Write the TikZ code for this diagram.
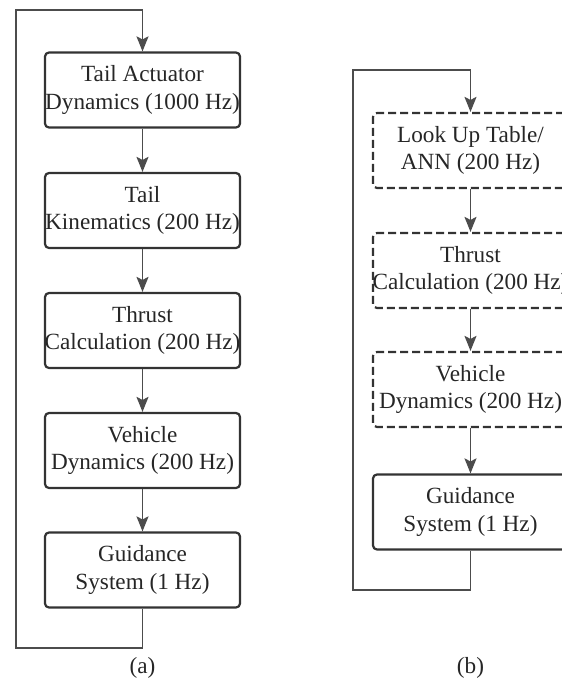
\documentclass[tikz,border=0pt]{standalone}
\usepackage{fontspec}
\setmainfont{Liberation Serif}
\usetikzlibrary{arrows.meta}

\tikzset{
 blk/.style={draw=black!80,line width=1.1pt,rounded corners=2pt,minimum width=97.5pt,minimum height=37.5pt,
   inner xsep=-3pt,align=center,text=black!85,font=\fontsize{11.6}{13.6}\selectfont},
 dblk/.style={blk,dash pattern=on 4pt off 2pt},
 flow/.style={->,>={Stealth[length=7.5pt,width=6pt,inset=1.5pt]},line width=0.75pt,draw=black!70},
 captxt/.style={text=black!85,font=\fontsize{11.6}{13.6}\selectfont},
}

\begin{document}
\begin{tikzpicture}[x=0.5pt,y=-0.5pt]
 \useasboundingbox (0,0) rectangle (562,681);

 % (a)
 \node[blk] (A1) at (142.5,90) {Tail Actuator\\Dynamics (1000 Hz)};
 \node[blk] (A2) at (142.5,210.5) {Tail\\Kinematics (200 Hz)};
 \node[blk] (A3) at (142.5,330.5) {Thrust\\Calculation (200 Hz)};
 \node[blk] (A4) at (142.5,450.5) {Vehicle\\Dynamics (200 Hz)};
 \node[blk] (A5) at (142.5,570) {Guidance\\System (1 Hz)};
 \draw[flow] (A1) -- (A2);
 \draw[flow] (A2) -- (A3);
 \draw[flow] (A3) -- (A4);
 \draw[flow] (A4) -- (A5);
 \coordinate (LaB) at (16,648);
 \coordinate (LaT) at (16,10);
 \draw[flow] (A5.south) |- (LaB) -- (LaT) -| (A1.north);
 \node[captxt] (capa) at (142.5,668) {(a)};

 % (b)
 \node[dblk] (B1) at (470.5,150.5) {Look Up Table/\\ANN (200 Hz)};
 \node[dblk] (B2) at (470.5,270.5) {Thrust\\Calculation (200 Hz)};
 \node[dblk] (B3) at (470.5,389.5) {Vehicle\\Dynamics (200 Hz)};
 \node[blk] (B4) at (470.5,512) {Guidance\\System (1 Hz)};
 \draw[flow] (B1) -- (B2);
 \draw[flow] (B2) -- (B3);
 \draw[flow] (B3) -- (B4);
 \coordinate (LbB) at (353,590);
 \coordinate (LbT) at (353,70);
 \draw[flow] (B4.south) |- (LbB) -- (LbT) -| (B1.north);
 \node[captxt] (capb) at (470.5,668) {(b)};
\end{tikzpicture}
\end{document}
